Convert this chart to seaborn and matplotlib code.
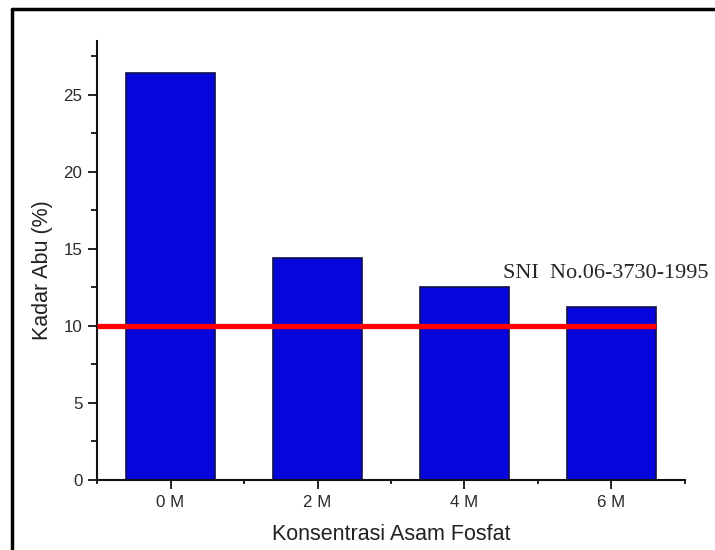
import numpy as np
import pandas as pd
import matplotlib
matplotlib.use("Agg")
import matplotlib.pyplot as plt
from matplotlib.lines import Line2D
from matplotlib.ticker import MultipleLocator, FixedLocator
import seaborn as sns

# Data
konsentrasi = ["0 M", "2 M", "4 M", "6 M"]
kadar_abu = [26.4, 14.4, 12.55, 11.2]
batas_sni = 10.0
label_sni = "SNI  No.06-3730-1995"

df = pd.DataFrame({"Konsentrasi": konsentrasi, "Kadar": kadar_abu})

sns.set_style("ticks")
plt.rcParams["font.family"] = ["Liberation Sans", "DejaVu Sans"]

fig = plt.figure(figsize=(7.15, 5.5), dpi=100)
ax = fig.add_axes([0.1357, 0.1273, 0.958 - 0.1357, 0.926 - 0.1273])

sns.barplot(data=df, x="Konsentrasi", y="Kadar", order=konsentrasi,
            color="#0505dc", saturation=1, width=0.6,
            edgecolor="#10104a", linewidth=1.2, ax=ax)

# SNI limit line, ends at the right edge of the last bar
n = len(konsentrasi)
ax.hlines(batas_sni, -0.5, n - 1 + 0.3, color="#ff0000", linewidth=3.8, zorder=5)
ax.text(2.26, 13.1, label_sni, family=["Liberation Serif", "DejaVu Serif"],
        fontsize=16, ha="left", va="baseline", clip_on=False)

ax.set_xlim(-0.5, n - 0.5)
ax.set_ylim(0, 28.5)
ax.yaxis.set_major_locator(MultipleLocator(5))
ax.yaxis.set_minor_locator(MultipleLocator(2.5))
ax.xaxis.set_minor_locator(FixedLocator(np.arange(-0.5, n, 1.0)))

ax.set_xlabel("Konsentrasi Asam Fosfat", fontsize=15.5, color="#222222", va="center")
ax.set_ylabel("Kadar Abu (%)", fontsize=15.5, color="#222222", va="center")
ax.xaxis.set_label_coords(0.5, -0.125)
ax.yaxis.set_label_coords(-0.0935, 0.478)

sns.despine(ax=ax)
for side in ["left", "bottom"]:
    ax.spines[side].set_linewidth(1.5)
    ax.spines[side].set_color("#111111")
ax.tick_params(which="major", direction="out", length=6.5, width=1.3,
               labelsize=12.2, colors="#111111", labelcolor="#2a2a2a")
ax.tick_params(axis="y", which="minor", direction="out", length=4.3, width=1.3, colors="#111111")
ax.tick_params(axis="x", which="minor", direction="out", length=3, width=1.3, colors="#111111")
ax.tick_params(axis="x", which="major", pad=4)
ax.tick_params(axis="y", which="major", pad=4)

# frame lines of the cropped screenshot (top and left)
fig.add_artist(Line2D([12 / 715, 1.0], [1 - 9 / 550, 1 - 9 / 550],
                      transform=fig.transFigure, color="black", linewidth=2.5))
fig.add_artist(Line2D([12 / 715, 12 / 715], [0.0, 1 - 9 / 550],
                      transform=fig.transFigure, color="black", linewidth=2.5))

fig.savefig("out.png", dpi=100)
